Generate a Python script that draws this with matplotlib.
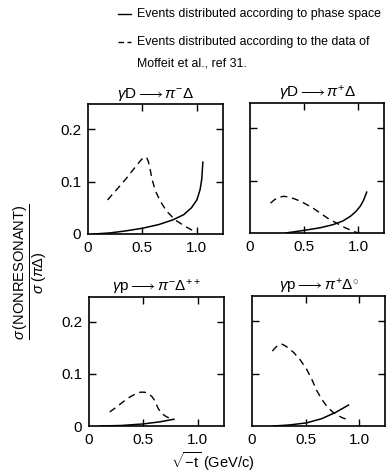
import matplotlib.pyplot as plt
from matplotlib.lines import Line2D

# sqrt(-t) values and cross-section ratios, read per panel
tl_dash_x = [0.18, 0.26, 0.34, 0.42, 0.47, 0.50, 0.52, 0.54, 0.555, 0.57, 0.59, 0.62, 0.66, 0.72, 0.80, 0.88, 0.95, 1.00]
tl_dash_y = [0.065, 0.084, 0.103, 0.124, 0.137, 0.144, 0.147, 0.145, 0.138, 0.124, 0.103, 0.082, 0.064, 0.044, 0.027, 0.016, 0.008, 0.004]
tl_line_x = [0.05, 0.20, 0.35, 0.50, 0.65, 0.78, 0.88, 0.95, 1.00, 1.03, 1.045, 1.055]
tl_line_y = [0.000, 0.002, 0.006, 0.011, 0.018, 0.027, 0.037, 0.050, 0.065, 0.085, 0.105, 0.137]

tr_dash_x = [0.19, 0.23, 0.27, 0.31, 0.35, 0.40, 0.45, 0.50, 0.58, 0.65, 0.72, 0.80, 0.88, 0.96, 1.00]
tr_dash_y = [0.057, 0.064, 0.068, 0.070, 0.069, 0.066, 0.062, 0.057, 0.048, 0.038, 0.028, 0.019, 0.010, 0.003, 0.000]
tr_line_x = [0.33, 0.50, 0.65, 0.77, 0.86, 0.93, 0.98, 1.02, 1.05, 1.08]
tr_line_y = [0.000, 0.005, 0.010, 0.016, 0.023, 0.032, 0.041, 0.051, 0.062, 0.078]

bl_dash_x = [0.19, 0.25, 0.31, 0.37, 0.42, 0.47, 0.51, 0.55, 0.58, 0.61, 0.63, 0.66, 0.71, 0.77]
bl_dash_y = [0.027, 0.036, 0.046, 0.055, 0.061, 0.065, 0.065, 0.062, 0.056, 0.047, 0.036, 0.025, 0.018, 0.012]
bl_line_x = [0.10, 0.30, 0.50, 0.65, 0.78]
bl_line_y = [0.000, 0.001, 0.004, 0.008, 0.013]

br_dash_x = [0.19, 0.22, 0.25, 0.28, 0.31, 0.35, 0.39, 0.45, 0.51, 0.56, 0.60, 0.65, 0.70, 0.75, 0.80, 0.85, 0.90]
br_dash_y = [0.143, 0.150, 0.155, 0.156, 0.153, 0.147, 0.140, 0.126, 0.108, 0.088, 0.069, 0.051, 0.037, 0.027, 0.020, 0.015, 0.012]
br_line_x = [0.20, 0.35, 0.51, 0.65, 0.78, 0.90]
br_line_y = [0.000, 0.002, 0.006, 0.014, 0.026, 0.040]

titles = [r"$\gamma$D$\longrightarrow\pi^{-}\Delta$",
          r"$\gamma$D$\longrightarrow\pi^{+}\Delta$",
          r"$\gamma$p$\longrightarrow\pi^{-}\Delta^{++}$",
          r"$\gamma$p$\longrightarrow\pi^{+}\Delta^{\circ}$"]

plt.rcParams['font.family'] = 'Liberation Sans'
plt.rcParams['mathtext.fontset'] = 'custom'
plt.rcParams['mathtext.rm'] = 'Liberation Sans'
plt.rcParams['mathtext.it'] = 'Liberation Sans:italic'

W, H = 386, 474
fig = plt.figure(figsize=(W / 100, H / 100), dpi=100)

def box(x0, x1, ytop, ybot):
    return [x0 / W, 1 - ybot / H, (x1 - x0) / W, (ybot - ytop) / H]

cajas = [box(88, 223, 104, 234), box(250, 384, 103, 233),
         box(89, 224, 297, 426), box(252, 385, 296, 426)]
datos = [(tl_dash_x, tl_dash_y, tl_line_x, tl_line_y),
         (tr_dash_x, tr_dash_y, tr_line_x, tr_line_y),
         (bl_dash_x, bl_dash_y, bl_line_x, bl_line_y),
         (br_dash_x, br_dash_y, br_line_x, br_line_y)]

for i in range(4):
    ax = fig.add_axes(cajas[i])
    dx, dy, lx, ly = datos[i]
    ax.plot(dx, dy, color="k", lw=1.0, dashes=(5, 3.5))
    ax.plot(lx, ly, color="k", lw=1.1)
    ax.set_xlim(0, 1.24)
    ax.set_ylim(0, 0.248)
    ax.tick_params(direction="in", length=5, width=1, top=True, right=True,
                   labelsize=11, pad=5)
    ax.set_xticks([0, 0.5, 1.0])
    ax.set_xticklabels(["0", "0.5", "1.0"])
    ax.xaxis.get_major_ticks()[0].tick1line.set_visible(False)
    ax.xaxis.get_major_ticks()[0].tick2line.set_visible(False)
    ax.set_yticks([0, 0.1, 0.2])
    if i % 2 == 0:
        ax.set_yticklabels(["0", "0.1", "0.2"])
    else:
        ax.set_yticklabels([])
    ax.yaxis.get_major_ticks()[0].tick1line.set_visible(False)
    ax.yaxis.get_major_ticks()[0].tick2line.set_visible(False)
    for s in ax.spines.values():
        s.set_linewidth(1.2)
    ax.set_title(titles[i], fontsize=11, pad=4)

# leyenda escrita a mano arriba
fig.add_artist(Line2D([118 / W, 131 / W], [1 - 14 / H, 1 - 14 / H], color="k", lw=1.0))
fig.add_artist(Line2D([118 / W, 131 / W], [1 - 42 / H, 1 - 42 / H], color="k", lw=1.0,
                      dashes=(4, 2.5)))
fig.text(137 / W, 1 - 14 / H, "Events distributed according to phase space",
         fontsize=8.9, va="center", ha="left")
fig.text(137 / W, 1 - 42 / H, "Events distributed according to the data of",
         fontsize=8.9, va="center", ha="left")
fig.text(137 / W, 1 - 63 / H, "Moffeit et al., ref 31.",
         fontsize=8.9, va="center", ha="left")

fig.text(31 / W, 1 - 272 / H,
         r"$\frac{\sigma\,\mathrm{(NONRESONANT)}}{\sigma\;(\pi\Delta)}$",
         fontsize=15, rotation=90, ha="center", va="center")
fig.text(213 / W, 1 - 462 / H, r"$\sqrt{-\mathrm{t}}$ (GeV/c)",
         fontsize=10.5, ha="center", va="center")

fig.savefig("out.png", dpi=100)
